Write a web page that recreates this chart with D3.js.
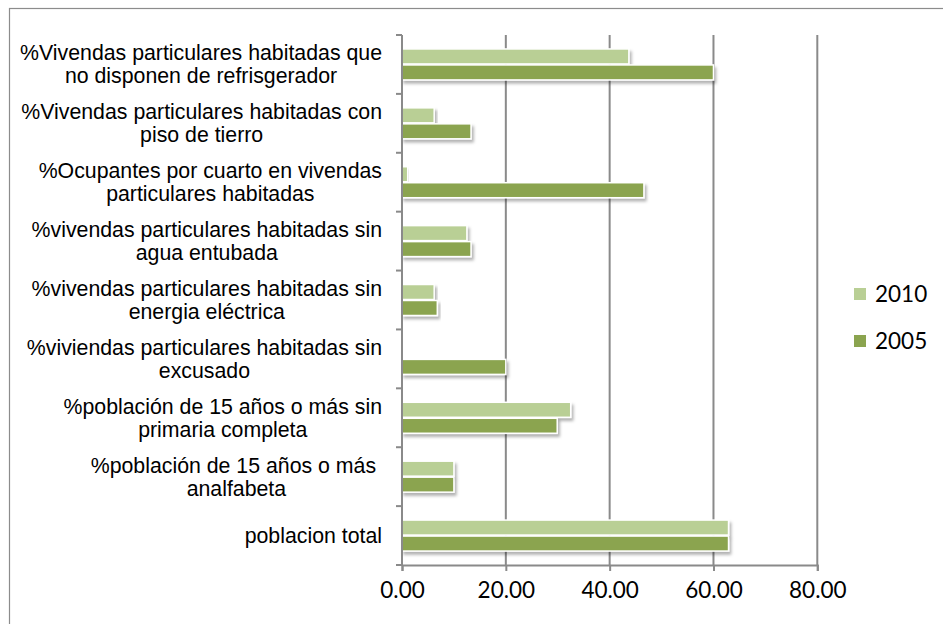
<!DOCTYPE html>
<html>
<head>
<meta charset="utf-8">
<script src="https://cdn.jsdelivr.net/npm/d3@7"></script>
<style>
  body { margin: 0; background: #fff; }
  svg { display: block; }
</style>
</head>
<body>
<div id="chart"></div>
<script>
// categories top to bottom, as they appear on the chart
const categories = [
  ["%Vivendas particulares habitadas que", "no disponen de refrisgerador"],
  ["%Vivendas particulares habitadas con", "piso de tierro"],
  ["%Ocupantes por cuarto en vivendas", "particulares habitadas"],
  ["%vivendas particulares habitadas sin", "agua entubada"],
  ["%vivendas particulares habitadas sin", "energia eléctrica"],
  ["%viviendas particulares habitadas sin", "excusado"],
  ["%población de 15 años o más sin", "primaria completa"],
  ["%población de 15 años o más ", "analfabeta"],
  ["poblacion total"]
]
const values2010 = [43.7, 6.2, 1.1, 12.5, 6.2, 0, 32.5, 10.0, 62.9]
const values2005 = [60.0, 13.3, 46.6, 13.3, 6.8, 20.0, 29.9, 10.0, 62.9]
const seriesNames = ["2010", "2005"]
const xTicks = [0, 20, 40, 60, 80]

const colors = { "2010": "#b9cf95", "2005": "#8ba44f" }

const W = 943, H = 624
const margin = { top: 35, left: 402, right: 126, bottom: 59 } // plot: 402..817, 35..565

const svg = d3.select("#chart").append("svg")
  .attr("width", W).attr("height", H)

// drop shadow like the office chart
const defs = svg.append("defs")
defs.append("filter").attr("id", "shadow")
  .attr("x", "-5%").attr("y", "-30%").attr("width", "115%").attr("height", "190%")
  .append("feDropShadow")
  .attr("dx", 2).attr("dy", 3).attr("stdDeviation", 1.8)
  .attr("flood-color", "#000").attr("flood-opacity", 0.3)

// outer chart border (only top and left visible in the frame)
svg.append("rect")
  .attr("x", 9.5).attr("y", 8.5)
  .attr("width", W + 20).attr("height", H + 20)
  .attr("fill", "none").attr("stroke", "#8c8c8c").attr("stroke-width", 1.2)

const x = d3.scaleLinear()
  .domain([0, 80])
  .range([margin.left, W - margin.right + 0.3])

const y = d3.scaleBand()
  .domain(d3.range(categories.length))
  .range([margin.top, H - margin.bottom])
  .paddingInner(0.457).paddingOuter(0.2285)

const ySub = d3.scaleBand()
  .domain(seriesNames)
  .range([0, y.bandwidth()])

// gridlines
svg.append("g")
  .selectAll("line")
  .data(xTicks.slice(1))
  .join("line")
  .attr("x1", d => x(d)).attr("x2", d => x(d))
  .attr("y1", margin.top).attr("y2", H - margin.bottom)
  .attr("stroke", "#8a8a8a").attr("stroke-width", 2)

// bars
const groups = svg.append("g")
  .selectAll("g")
  .data(categories.map((c, i) => ({ i, v: { "2010": values2010[i], "2005": values2005[i] } })))
  .join("g")
  .attr("transform", d => "translate(0," + y(d.i) + ")")

groups.selectAll("rect")
  .data(d => seriesNames.map(s => ({ s, v: d.v[s] })).filter(d => d.v > 0))
  .join("rect")
  .attr("x", x(0))
  .attr("y", d => ySub(d.s) + 0.5)
  .attr("width", d => x(d.v) - x(0))
  .attr("height", ySub.bandwidth() - 1)
  .attr("fill", d => colors[d.s])
  .attr("stroke", "#fff").attr("stroke-width", 1.5)
  .attr("filter", "url(#shadow)")

// x axis
const xAxis = svg.append("g")
  .attr("transform", "translate(0," + (H - margin.bottom) + ")")
  .call(d3.axisBottom(x).tickValues(xTicks).tickFormat(d3.format(".2f")).tickSize(6).tickPadding(11))
xAxis.select(".domain").attr("stroke", "#8a8a8a").attr("stroke-width", 2)
xAxis.selectAll(".tick line").attr("stroke", "#8a8a8a").attr("stroke-width", 2)
xAxis.selectAll("text")
  .attr("fill", "#000")
  .style("font-family", "Lato, 'Open Sans', sans-serif")
  .style("font-size", "22.5px")

// y axis line and ticks at band boundaries
const yAxis = svg.append("g")
yAxis.append("line")
  .attr("x1", x(0)).attr("x2", x(0))
  .attr("y1", margin.top).attr("y2", H - margin.bottom)
  .attr("stroke", "#8a8a8a").attr("stroke-width", 2)
const step = y.step()
yAxis.selectAll("line.tk")
  .data(d3.range(categories.length + 1))
  .join("line").attr("class", "tk")
  .attr("x1", x(0) - 6).attr("x2", x(0))
  .attr("y1", i => margin.top + i * step).attr("y2", i => margin.top + i * step)
  .attr("stroke", "#8a8a8a").attr("stroke-width", 2)

// category labels: each block centred on itself, right edge aligned
const labelRight = 382
const lineH = 23
const labels = svg.append("g")
  .style("font-family", "'Liberation Sans', Arial, sans-serif")
  .style("font-size", "21.3px")
  .attr("fill", "#000")

categories.forEach((lines, i) => {
  const cy = margin.top + (i + 0.5) * step
  const t = labels.append("text").attr("text-anchor", "middle")
  lines.forEach((ln, j) => {
    t.append("tspan")
      .attr("y", cy + (j - (lines.length - 1) / 2) * lineH + 7.5)
      .text(ln)
  })
  const w = d3.max(t.selectAll("tspan").nodes(), n => n.getComputedTextLength())
  t.selectAll("tspan").attr("x", labelRight - w / 2)
})

// legend
const legend = svg.append("g")
  .selectAll("g")
  .data(seriesNames)
  .join("g")
  .attr("transform", (d, i) => "translate(854," + (288 + i * 47) + ")")
legend.append("rect")
  .attr("width", 12).attr("height", 12)
  .attr("fill", d => colors[d])
legend.append("text")
  .attr("x", 21).attr("y", 14)
  .style("font-family", "Lato, 'Open Sans', sans-serif")
  .style("font-size", "22.5px")
  .text(d => d)
</script>
</body>
</html>
